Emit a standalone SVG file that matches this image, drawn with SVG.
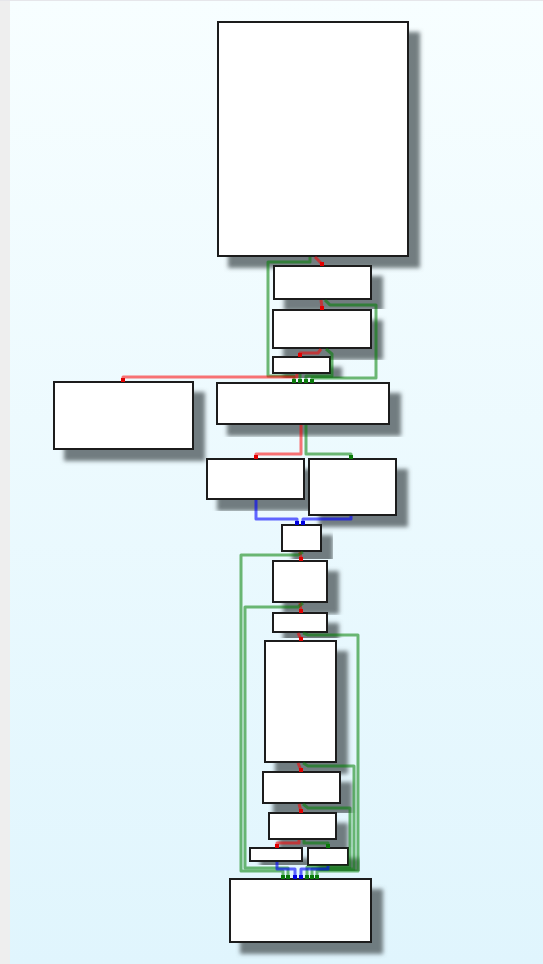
<svg xmlns="http://www.w3.org/2000/svg" width="543" height="964" viewBox="0 0 543 964">
<defs>
<linearGradient id="bg" x1="0" y1="0" x2="0" y2="1">
<stop offset="0" stop-color="#f7feff"/>
<stop offset="1" stop-color="#e0f5fd"/>
</linearGradient>
<filter id="sh" x="-20%" y="-20%" width="150%" height="150%">
<feDropShadow dx="11" dy="11" stdDeviation="2" flood-color="#5c666b" flood-opacity="0.85"/>
</filter>
<marker id="mr" markerUnits="userSpaceOnUse" markerWidth="6" markerHeight="6" refX="3" refY="3"><rect x="1" y="1" width="4" height="4" fill="#e00000"/></marker>
<marker id="mg" markerUnits="userSpaceOnUse" markerWidth="6" markerHeight="6" refX="3" refY="3"><rect x="1" y="1" width="4" height="4" fill="#0a7a0a"/></marker>
<marker id="mb" markerUnits="userSpaceOnUse" markerWidth="6" markerHeight="6" refX="3" refY="3"><rect x="1" y="1" width="4" height="4" fill="#0000e0"/></marker>
</defs>
<style>
.n rect{fill:#ffffff;stroke:#1e1e1e;stroke-width:2;filter:url(#sh)}
#edges path{fill:none;stroke-width:3;stroke-linejoin:round}
.r{stroke:rgba(255,0,0,0.55);marker-end:url(#mr)}
.g{stroke:rgba(0,128,0,0.55);marker-end:url(#mg)}
.b{stroke:rgba(0,0,255,0.6);marker-end:url(#mb)}
</style>
<rect x="0" y="0" width="543" height="964" fill="url(#bg)"/>
<rect x="0" y="0" width="10" height="964" fill="#eeeeee"/>
<rect x="0" y="0" width="543" height="1" fill="#e6e6ea"/>
<g id="nodes">
<g id="n1" class="n"><rect x="218" y="22" width="190" height="234"/></g>
<g id="n2" class="n"><rect x="274" y="266" width="97" height="33"/></g>
<g id="n3" class="n"><rect x="273" y="310" width="98" height="38"/></g>
<g id="n4" class="n"><rect x="273" y="357" width="57" height="16"/></g>
<g id="n5" class="n"><rect x="54" y="382" width="139" height="67"/></g>
<g id="n6" class="n"><rect x="217" y="383" width="172" height="41"/></g>
<g id="n7" class="n"><rect x="207" y="459" width="97" height="40"/></g>
<g id="n8" class="n"><rect x="309" y="459" width="87" height="56"/></g>
<g id="n9" class="n"><rect x="282" y="525" width="39" height="26"/></g>
<g id="n10" class="n"><rect x="273" y="561" width="54" height="41"/></g>
<g id="n11" class="n"><rect x="273" y="613" width="54" height="19"/></g>
<g id="n12" class="n"><rect x="265" y="641" width="71" height="121"/></g>
<g id="n13" class="n"><rect x="263" y="772" width="77" height="31"/></g>
<g id="n14" class="n"><rect x="269" y="813" width="67" height="26"/></g>
<g id="n15" class="n"><rect x="250" y="848" width="52" height="13"/></g>
<g id="n16" class="n"><rect x="308" y="848" width="40" height="17"/></g>
<g id="n17" class="n"><rect x="230" y="879" width="141" height="63"/></g>
</g>
<g id="edges">
<path class="r" d="M315,257 L322,264"/>
<path class="g" d="M310,257 L310,262 L268,262 L268,376 L294,376 L294,381"/>
<path class="r" d="M321,300 L322,308"/>
<path class="g" d="M325,300 L330,305 L376,305 L376,378 L312,378 L312,381"/>
<path class="r" d="M321,349 L318,353 L300,353 L300,355"/>
<path class="g" d="M326,349 L332,354 L332,376 L306,376 L306,381"/>
<path class="r" d="M297,374 L297,377 L123,377 L123,380"/>
<path class="g" d="M300,374 L300,381"/>
<path class="r" d="M301,425 L301,454 L256,454 L256,457"/>
<path class="g" d="M306,425 L306,454 L351,454 L351,457"/>
<path class="b" d="M256,500 L256,519 L297,519 L297,523"/>
<path class="b" d="M351,516 L351,519 L303,519 L303,523"/>
<path class="r" d="M300,552 L301,559"/>
<path class="g" d="M303,552 L298,555 L241,555 L241,871 L283,871 L283,877"/>
<path class="r" d="M300,603 L301,611"/>
<path class="g" d="M303,603 L298,607 L245,607 L245,868 L288,868 L288,877"/>
<path class="r" d="M298,633 L301,639"/>
<path class="g" d="M303,633 L308,635 L358,635 L358,871 L317,871 L317,877"/>
<path class="r" d="M298,763 L301,770"/>
<path class="g" d="M303,763 L308,766 L354,766 L354,869 L312,869 L312,877"/>
<path class="r" d="M299,804 L301,811"/>
<path class="g" d="M303,804 L308,808 L350,808 L350,867 L307,867 L307,877"/>
<path class="r" d="M299,840 L299,843 L277,843 L277,846"/>
<path class="g" d="M304,840 L304,843 L328,843 L328,846"/>
<path class="b" d="M277,862 L277,869 L295,869 L295,877"/>
<path class="b" d="M328,866 L328,869 L301,869 L301,877"/>
</g>
</svg>
